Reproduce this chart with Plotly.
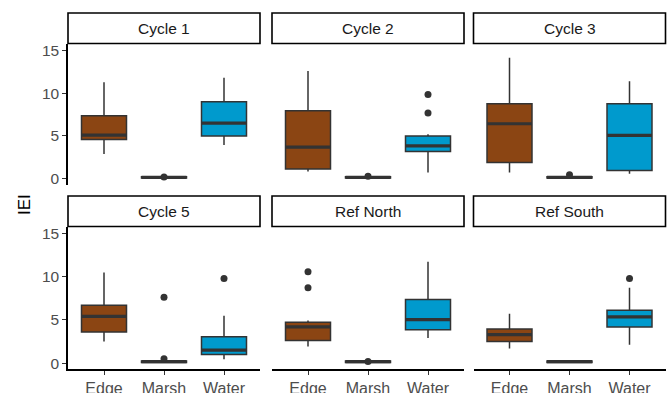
import plotly.graph_objects as go

# ---------------- data ----------------
facets = ["Cycle 1", "Cycle 2", "Cycle 3", "Cycle 5", "Ref North", "Ref South"]
habitats = ["Edge", "Marsh", "Water"]

# per facet: [Edge, Marsh, Water]
lowerfence = [
    [2.9, 0.05, 3.95],
    [0.85, 0.05, 0.73],
    [0.73, 0.05, 0.58],
    [2.5, 0.05, 0.46],
    [1.93, 0.05, 2.9],
    [1.7, 0.05, 2.13],
]
q1 = [
    [4.6, 0.08, 5.0],
    [1.13, 0.08, 3.17],
    [1.9, 0.08, 0.97],
    [3.6, 0.08, 1.0],
    [2.63, 0.08, 3.87],
    [2.51, 0.08, 4.19],
]
median = [
    [5.1, 0.15, 6.5],
    [3.7, 0.15, 3.84],
    [6.43, 0.15, 5.08],
    [5.42, 0.17, 1.5],
    [4.19, 0.17, 5.03],
    [3.29, 0.17, 5.35],
]
q3 = [
    [7.36, 0.22, 9.0],
    [7.95, 0.22, 5.0],
    [8.76, 0.22, 8.76],
    [6.7, 0.24, 3.06],
    [4.72, 0.24, 7.36],
    [3.95, 0.24, 6.12],
]
upperfence = [
    [11.3, 0.28, 11.8],
    [12.6, 0.28, 5.2],
    [14.15, 0.28, 11.4],
    [10.5, 0.3, 5.5],
    [4.95, 0.3, 11.74],
    [5.73, 0.3, 8.72],
]
outliers = [
    [[], [0.2], []],
    [[], [0.3], [9.85, 7.7]],
    [[], [0.45], []],
    [[], [7.63, 0.5], [9.8]],
    [[10.58, 8.72], [0.2], []],
    [[], [], [9.8]],
]
fill_colors = {"Edge": "#8B4513", "Marsh": "#8B4513", "Water": "#009ACD"}
y_ticks = [0, 5, 10, 15]
y_title = "IEI"

# ---------------- layout geometry (pixels) ----------------
W, H = 672, 393
col_x = [(68, 260), (272, 464), (473.5, 665.5)]
row_plot = [(43.5, 184.5), (226.5, 369)]
row_strip = [(13, 43.5), (196, 226.5)]
FONT = "Liberation Sans, Arial, sans-serif"
LINE = "#333333"

fig = go.Figure()
shapes = []
annotations = []

for i, facet in enumerate(facets):
    r, c = divmod(i, 3)
    n = i + 1
    xa = "x" if n == 1 else f"x{n}"
    ya = "y" if n == 1 else f"y{n}"
    for j, hab in enumerate(habitats):
        fig.add_trace(go.Box(
            x=[hab], q1=[q1[i][j]], median=[median[i][j]], q3=[q3[i][j]],
            lowerfence=[lowerfence[i][j]], upperfence=[upperfence[i][j]],
            fillcolor=fill_colors[hab], line=dict(color=LINE, width=1.5),
            width=0.75, whiskerwidth=0, boxpoints=False,
            xaxis=xa, yaxis=ya, showlegend=False, hoverinfo="skip",
        ))
        m = median[i][j]
        fig.add_trace(go.Box(
            x=[hab], q1=[m], median=[m], q3=[m], lowerfence=[m], upperfence=[m],
            fillcolor="rgba(0,0,0,0)", line=dict(color=LINE, width=3.2),
            width=0.75, whiskerwidth=0, boxpoints=False,
            xaxis=xa, yaxis=ya, showlegend=False, hoverinfo="skip",
        ))
        if outliers[i][j]:
            fig.add_trace(go.Scatter(
                x=[hab] * len(outliers[i][j]), y=outliers[i][j], mode="markers",
                marker=dict(color=LINE, size=7),
                xaxis=xa, yaxis=ya, showlegend=False, hoverinfo="skip",
            ))

    x0, x1 = col_x[c]
    p0, p1 = row_plot[r]
    xdom = [x0 / W, x1 / W]
    ydom = [1 - p1 / H, 1 - p0 / H]
    bottom = r == 1
    left = c == 0
    fig.layout[("xaxis" if n == 1 else f"xaxis{n}")] = dict(
        domain=xdom, anchor=ya, type="category", automargin=False,
        categoryorder="array", categoryarray=habitats,
        range=[-0.6, 2.6], showgrid=False, zeroline=False,
        showline=bottom, linecolor="black", linewidth=1.5,
        ticks="outside" if bottom else "", ticklen=4, tickwidth=1.2, tickcolor=LINE,
        showticklabels=bottom,
        tickfont=dict(family=FONT, size=16, color="#4D4D4D"),
    )
    fig.layout[("yaxis" if n == 1 else f"yaxis{n}")] = dict(
        domain=ydom, anchor=xa, range=[-0.68, 15.82], automargin=False,
        tickvals=y_ticks, showgrid=False, zeroline=False,
        showline=left, linecolor="black", linewidth=1.5,
        ticks="outside" if left else "", ticklen=4, tickwidth=1.2, tickcolor=LINE,
        showticklabels=left,
        tickfont=dict(family=FONT, size=15.5, color="#4D4D4D"),
    )
    s0, s1 = row_strip[r]
    shapes.append(dict(type="rect", xref="paper", yref="paper",
                       x0=x0 / W, x1=x1 / W, y0=1 - s1 / H, y1=1 - s0 / H,
                       line=dict(color="black", width=1.6), fillcolor="white"))
    annotations.append(dict(text=facet, xref="paper", yref="paper",
                            x=(x0 + x1) / 2 / W, y=1 - (s0 + s1) / 2 / H,
                            showarrow=False, xanchor="center", yanchor="middle",
                            font=dict(family=FONT, size=15.5, color="#1A1A1A")))

annotations.append(dict(text=y_title, xref="paper", yref="paper",
                        x=24 / W, y=1 - 205 / H, textangle=-90, showarrow=False,
                        xanchor="center", yanchor="middle",
                        font=dict(family=FONT, size=17, color="black")))

fig.update_layout(
    width=W, height=H, margin=dict(l=0, r=0, t=0, b=0, autoexpand=False),
    paper_bgcolor="white", plot_bgcolor="white",
    shapes=shapes, annotations=annotations, boxmode="overlay",
)
fig.write_html(
    "out.html",
    config={"displayModeBar": False},
    post_script="document.body.style.margin='0';document.body.style.overflow='hidden';",
)
